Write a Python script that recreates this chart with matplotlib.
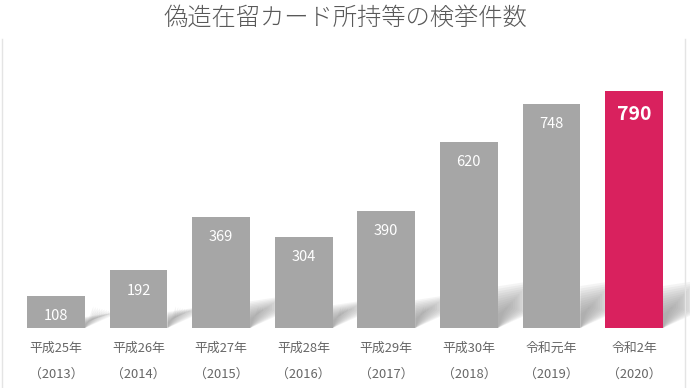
import numpy as np
import matplotlib.pyplot as plt
from matplotlib.lines import Line2D

plt.rcParams['font.family'] = ['Noto Sans CJK JP', 'DejaVu Sans']

title = "偽造在留カード所持等の検挙件数"
eras = ["平成25年", "平成26年", "平成27年", "平成28年", "平成29年", "平成30年", "令和元年", "令和2年"]
years = ["2013", "2014", "2015", "2016", "2017", "2018", "2019", "2020"]
counts = [108, 192, 369, 304, 390, 620, 748, 790]

gray = "#A6A6A6"
pink = "#D9215E"
width = 0.70

fig = plt.figure(figsize=(6.9, 3.88), dpi=100)
ax = fig.add_axes([0, 0.1546, 1, 0.7732])

x = np.arange(len(counts))
colors = [gray] * (len(counts) - 1) + [pink]
ax.bar(x, counts, width=width, color=colors, zorder=3)

# soft shadow cast up and to the right of every bar
for xi, v in zip(x, counts):
    xr = xi + width / 2
    h = min(15 + 0.2 * v, 140)
    for k in range(12):
        w = 0.40 - k * 0.027
        hh = h * (1 - k * 0.06)
        px = [xr, xr, xr + w, xr + w]
        py = [0, hh, hh + 17, 50 + k * 2]
        ax.fill(px, py, color="#8f8f8f", alpha=0.09, lw=0, zorder=1)

for xi, v in zip(x, counts):
    if xi == len(counts) - 1:
        ax.annotate(str(v), (xi, v), xytext=(0, -17), textcoords="offset points",
                    ha="center", va="center", color="white", fontsize=14,
                    fontweight="bold", zorder=4)
    else:
        ax.annotate(str(v), (xi, v), xytext=(0, -14.5), textcoords="offset points",
                    ha="center", va="center", color="white", fontsize=10.5, zorder=4)

ax.set_xlim(-0.678, 7.678)
ax.set_ylim(0, 1000)
ax.set_xticks(x)
ax.set_xticklabels([f"{e}\n（{y}）" for e, y in zip(eras, years)],
                   linespacing=2.3, fontsize=9.3, color="#666666")
ax.tick_params(axis="x", length=0, pad=10)
ax.set_yticks([])
for s in ax.spines.values():
    s.set_visible(False)

fig.text(0.5, 0.953, title, ha="center", va="center", fontsize=17.5,
         color="#595959", fontweight="light")

# faint frame edges
fig.add_artist(Line2D([0.003, 0.003], [0, 0.9], color="#e4e4e4", lw=1))
fig.add_artist(Line2D([0.993, 0.993], [0, 0.9], color="#e4e4e4", lw=1))

fig.savefig("out.png", dpi=100)
plt.close(fig)
